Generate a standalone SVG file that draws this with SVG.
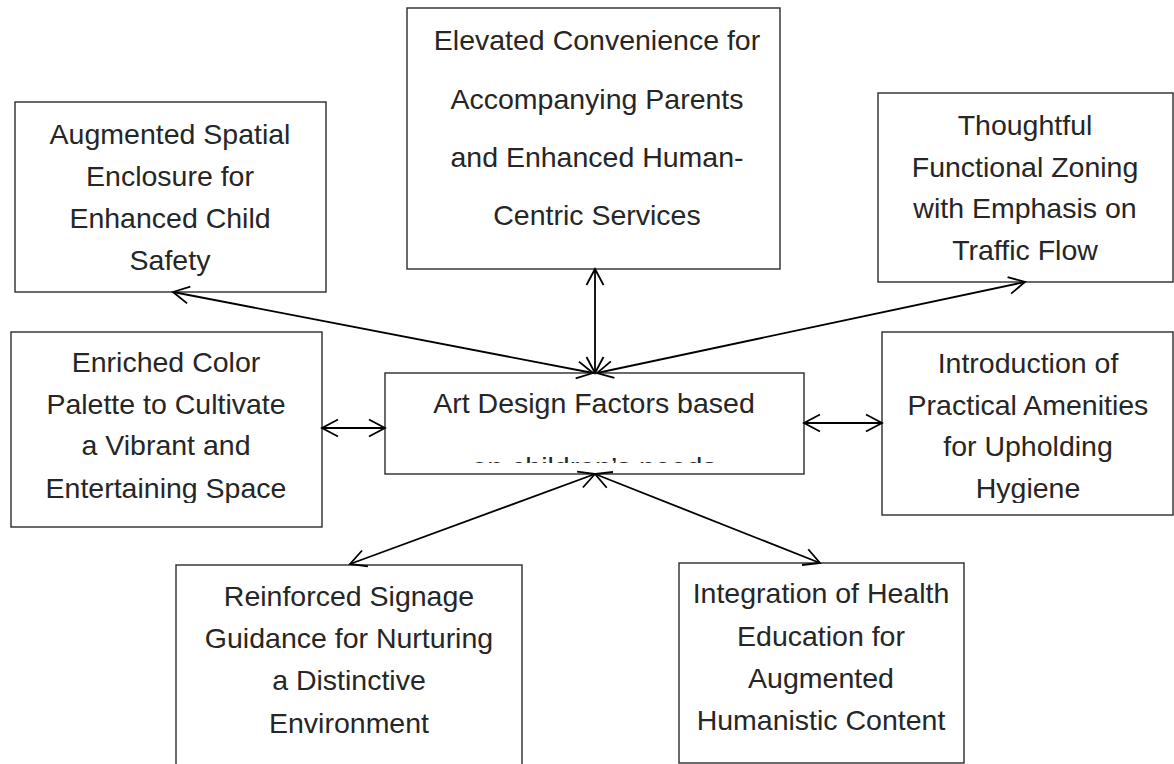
<svg xmlns="http://www.w3.org/2000/svg" width="1174" height="764" viewBox="0 0 1174 764">
<style>
.box{fill:#fff;stroke:#2b2b2b;stroke-width:1.4}
.t{font-family:"Liberation Sans",Arial,sans-serif;font-size:28.5px;fill:#262626;text-anchor:middle}
.c{fill:none;stroke:#000;stroke-width:1.8}
</style>
<defs>
<marker id="ah" markerUnits="userSpaceOnUse" markerWidth="20" markerHeight="20" refX="0" refY="0" orient="auto-start-reverse" overflow="visible">
<path d="M-16,-8.5 L0,0 L-16,8.5" fill="none" stroke="#000" stroke-width="1.8"/>
</marker>
<clipPath id="clipC"><rect x="386" y="374" width="417" height="89"/></clipPath>
<clipPath id="clip4"><rect x="12" y="333" width="309" height="170"/></clipPath>
<clipPath id="clip5"><rect x="883" y="333" width="290" height="170"/></clipPath>
</defs>
<rect width="1174" height="764" fill="#fff"/>
<g id="n1">
<rect class="box" x="15" y="102" width="311" height="190"/>
<text class="t"><tspan x="170" y="144">Augmented Spatial</tspan><tspan x="170" y="186">Enclosure for</tspan><tspan x="170" y="228">Enhanced Child</tspan><tspan x="170" y="270">Safety</tspan></text>
</g>
<g id="n2">
<rect class="box" x="407" y="8" width="373" height="261"/>
<text class="t"><tspan x="597" y="50">Elevated Convenience for</tspan><tspan x="597" y="109">Accompanying Parents</tspan><tspan x="597" y="167">and Enhanced Human-</tspan><tspan x="597" y="225">Centric Services</tspan></text>
</g>
<g id="n3">
<rect class="box" x="878" y="93" width="295" height="189"/>
<text class="t"><tspan x="1025" y="135">Thoughtful</tspan><tspan x="1025" y="177">Functional Zoning</tspan><tspan x="1025" y="218">with Emphasis on</tspan><tspan x="1025" y="260">Traffic Flow</tspan></text>
</g>
<g id="n4">
<rect class="box" x="11" y="332" width="311" height="195"/>
<text class="t" clip-path="url(#clip4)"><tspan x="166" y="372">Enriched Color</tspan><tspan x="166" y="413.5">Palette to Cultivate</tspan><tspan x="166" y="455">a Vibrant and</tspan><tspan x="166" y="497.5">Entertaining Space</tspan></text>
</g>
<g id="center">
<rect class="box" x="385" y="373" width="419" height="101"/>
<text class="t" clip-path="url(#clipC)"><tspan x="594" y="413">Art Design Factors based</tspan><tspan x="594" y="477">on children’s needs</tspan></text>
</g>
<g id="n5">
<rect class="box" x="882" y="332" width="291" height="183"/>
<text class="t" clip-path="url(#clip5)"><tspan x="1028" y="373">Introduction of</tspan><tspan x="1028" y="414.5">Practical Amenities</tspan><tspan x="1028" y="456">for Upholding</tspan><tspan x="1028" y="497.5">Hygiene</tspan></text>
</g>
<g id="n6">
<rect class="box" x="176" y="565" width="346" height="220"/>
<text class="t"><tspan x="349" y="606">Reinforced Signage</tspan><tspan x="349" y="648">Guidance for Nurturing</tspan><tspan x="349" y="690">a Distinctive</tspan><tspan x="349" y="733">Environment</tspan></text>
</g>
<g id="n7">
<rect class="box" x="679" y="563" width="285" height="200"/>
<text class="t"><tspan x="821" y="603">Integration of Health</tspan><tspan x="821" y="646">Education for</tspan><tspan x="821" y="688">Augmented</tspan><tspan x="821" y="730">Humanistic Content</tspan></text>
</g>
<g id="connectors">
<line class="c" x1="593" y1="373" x2="173" y2="292" marker-start="url(#ah)" marker-end="url(#ah)"/>
<line class="c" x1="595" y1="373" x2="595" y2="269" marker-start="url(#ah)" marker-end="url(#ah)"/>
<line class="c" x1="597" y1="373" x2="1025" y2="282" marker-start="url(#ah)" marker-end="url(#ah)"/>
<line class="c" x1="322" y1="428" x2="385" y2="428" marker-start="url(#ah)" marker-end="url(#ah)"/>
<line class="c" x1="804" y1="423" x2="882" y2="423" marker-start="url(#ah)" marker-end="url(#ah)"/>
<line class="c" x1="595" y1="474" x2="350" y2="564" marker-start="url(#ah)" marker-end="url(#ah)"/>
<line class="c" x1="595" y1="474" x2="820" y2="563" marker-start="url(#ah)" marker-end="url(#ah)"/>
</g>
</svg>
